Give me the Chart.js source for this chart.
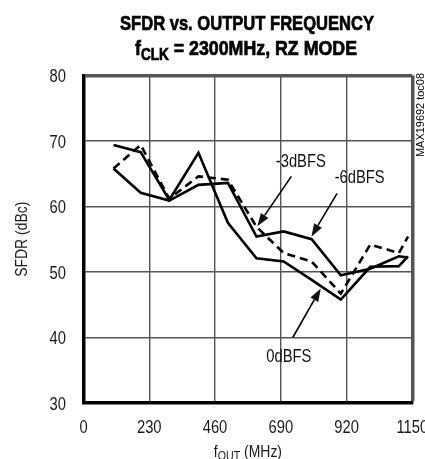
<!DOCTYPE html>
<html><head><meta charset="utf-8">
<script src="https://cdn.jsdelivr.net/npm/chart.js@4.4.0/dist/chart.umd.min.js"></script>
<style>html,body{margin:0;padding:0;background:#fff;overflow:hidden}canvas{display:block}</style>
</head><body>
<canvas id="c" width="425" height="459"></canvas>
<script>
// ---- data ----
const freqMHz        = [105, 200, 300, 402, 505, 605, 700, 798, 900, 1003, 1103, 1135];
const sfdr0dBFS      = [69.4, 68.3, 61.0, 68.2, 57.5, 52.1, 51.6, 48.8, 45.8, 50.8, 50.9, 52.4];
const sfdrMinus3dBFS = [65.8, 69.4, 61.2, 64.6, 64.1, 56.9, 52.9, 51.6, 46.7, 54.2, 52.9, 55.4];
const sfdrMinus6dBFS = [65.8, 62.1, 60.9, 63.3, 63.6, 55.4, 56.2, 55.0, 49.5, 50.5, 52.4, 52.2];
const xTickValues    = [0, 230, 460, 690, 920, 1150];
const yTickValues    = [30, 40, 50, 60, 70, 80];
const seriesNames    = ['0dBFS', '-3dBFS', '-6dBFS'];
// annotation anchors in data units: [labelX, labelY, arrowStartX, arrowStartY, tipX, tipY]
const annot0dBFS     = [718, 37.0, 732, 40.0, 830, 47.5];
const annotMinus3    = [760, 66.8, 727, 64.6, 608, 57.0];
const annotMinus6    = [966, 64.4, 887, 62.0, 797, 55.4];

const FAM = '"Liberation Sans", Arial, Helvetica, sans-serif';
const NARROW_X = 0.82;

function pts(ys){ return freqMHz.map((f,i)=>({x:f, y:ys[i]})); }

// draw horizontally condensed text
function narrowText(ctx, text, x, y, sx, align, stroke){
  ctx.save();
  ctx.translate(x, y);
  ctx.scale(sx, 1);
  ctx.textAlign = align || 'center';
  ctx.fillText(text, 0, 0);
  if (stroke) { ctx.lineWidth = stroke; ctx.strokeText(text, 0, 0); }
  ctx.restore();
}
function fitScale(ctx, text, maxW){ return maxW / ctx.measureText(text).width; }

const decor = {
  id: 'decor',
  afterDraw(chart){
    const ctx = chart.ctx, xs = chart.scales.x, ys = chart.scales.y, ca = chart.chartArea;
    ctx.save();
    ctx.fillStyle = '#000';
    ctx.strokeStyle = '#000';
    ctx.textBaseline = 'alphabetic';

    // title line 1
    ctx.font = 'bold 21px ' + FAM;
    narrowText(ctx, 'SFDR vs. OUTPUT FREQUENCY', 247, 30, fitScale(ctx, 'SFDR vs. OUTPUT FREQUENCY', 254), 'center', 0.7);
    // title line 2 with subscript
    const big = 'bold 21px ' + FAM, small = 'bold 16px ' + FAM;
    ctx.font = big; const wf = ctx.measureText('f').width;
    ctx.font = small; const wc = ctx.measureText('CLK').width;
    ctx.font = big; const wr = ctx.measureText(' = 2300MHz, RZ MODE').width;
    const s2 = 222 / (wf + wc + wr);
    ctx.save();
    ctx.translate(135, 55); ctx.scale(s2, 1); ctx.textAlign = 'left'; ctx.lineWidth = 0.7;
    ctx.font = big; ctx.fillText('f', 0, 0); ctx.strokeText('f', 0, 0);
    ctx.font = small; ctx.fillText('CLK', wf, 5); ctx.strokeText('CLK', wf, 5);
    ctx.font = big; ctx.fillText(' = 2300MHz, RZ MODE', wf + wc, 0); ctx.strokeText(' = 2300MHz, RZ MODE', wf + wc, 0);
    ctx.restore();

    // tick labels, from the library's ticks and pixel positions
    ctx.fillStyle = '#1a1a1a';
    ctx.font = '18px ' + FAM;
    ys.ticks.forEach(t => {
      narrowText(ctx, String(t.value), ca.left - 17.5, ys.getPixelForValue(t.value) + 6.5, NARROW_X, 'right');
    });
    xs.ticks.forEach(t => {
      narrowText(ctx, String(t.value), xs.getPixelForValue(t.value), 433, NARROW_X, 'center');
    });

    // y axis title
    ctx.font = '17px ' + FAM;
    ctx.save();
    ctx.translate(27, (ca.top + ca.bottom) / 2);
    ctx.rotate(-Math.PI / 2);
    narrowText(ctx, 'SFDR (dBc)', 0, 0, NARROW_X, 'center');
    ctx.restore();

    // x axis title with subscript
    const xb = '17px ' + FAM, xsm = '13px ' + FAM;
    ctx.font = xb; const a1 = ctx.measureText('f').width;
    ctx.font = xsm; const a2 = ctx.measureText('OUT').width;
    ctx.font = xb; const a3 = ctx.measureText(' (MHz)').width;
    const cx = (ca.left + ca.right) / 2;
    ctx.save();
    ctx.translate(cx, 457); ctx.scale(NARROW_X, 1); ctx.textAlign = 'left';
    const x0 = -(a1 + a2 + a3) / 2;
    ctx.font = xb; ctx.fillText('f', x0, 0);
    ctx.font = xsm; ctx.fillText('OUT', x0 + a1, 3);
    ctx.font = xb; ctx.fillText(' (MHz)', x0 + a1 + a2, 0);
    ctx.restore();

    // vertical id text
    ctx.fillStyle = '#000';
    ctx.font = '11px ' + FAM;
    ctx.save();
    ctx.translate(424, 115);
    ctx.rotate(-Math.PI / 2);
    narrowText(ctx, 'MAX19692 toc08', 0, 0, fitScale(ctx, 'MAX19692 toc08', 84), 'center');
    ctx.restore();

    // annotations
    const anns = [[seriesNames[0], annot0dBFS], [seriesNames[1], annotMinus3], [seriesNames[2], annotMinus6]];
    ctx.font = '18px ' + FAM;
    ctx.textBaseline = 'middle';
    ctx.fillStyle = '#111';
    for (const [name, a] of anns){
      const lx = xs.getPixelForValue(a[0]), ly = ys.getPixelForValue(a[1]);
      narrowText(ctx, name, lx, ly, NARROW_X, 'center');
      const sx = xs.getPixelForValue(a[2]), sy = ys.getPixelForValue(a[3]);
      const tx = xs.getPixelForValue(a[4]), ty = ys.getPixelForValue(a[5]);
      const ang = Math.atan2(ty - sy, tx - sx), L = 13, H = 4.5;
      const bx = tx - L * Math.cos(ang), by = ty - L * Math.sin(ang);
      ctx.lineWidth = 1.6;
      ctx.beginPath(); ctx.moveTo(sx, sy); ctx.lineTo(bx, by); ctx.stroke();
      ctx.beginPath();
      ctx.moveTo(tx, ty);
      ctx.lineTo(bx + H * Math.sin(ang), by - H * Math.cos(ang));
      ctx.lineTo(bx - H * Math.sin(ang), by + H * Math.cos(ang));
      ctx.closePath(); ctx.fill();
    }
    ctx.restore();
  }
};

new Chart(document.getElementById('c'), {
  type: 'line',
  data: {
    datasets: [
      { label: seriesNames[0], data: pts(sfdr0dBFS), borderColor: '#000', borderWidth: 2.6, pointRadius: 0, tension: 0, fill: false },
      { label: seriesNames[1], data: pts(sfdrMinus3dBFS), borderColor: '#000', borderWidth: 2.6, borderDash: [8, 5], pointRadius: 0, tension: 0, fill: false },
      { label: seriesNames[2], data: pts(sfdrMinus6dBFS), borderColor: '#000', borderWidth: 2.6, pointRadius: 0, tension: 0, fill: false }
    ]
  },
  options: {
    responsive: false,
    animation: false,
    events: [],
    layout: { padding: { left: 0, top: 75.5, right: 12.7, bottom: 0 } },
    plugins: { legend: { display: false }, title: { display: false }, tooltip: { enabled: false } },
    scales: {
      x: {
        type: 'linear', min: 0, max: 1150,
        afterBuildTicks: s => { s.ticks = xTickValues.map(v => ({ value: v })); },
        afterFit: s => { s.height = 56; s.paddingLeft = 0; s.paddingRight = 0; },
        ticks: { display: false, callback: v => String(v) },
        grid: {
          drawTicks: false,
          color: '#555',
          lineWidth: c => (c.tick && c.tick.value === 1150) ? 3.5 : 1.4
        },
        border: { display: true, color: '#000', width: 3.5 }
      },
      y: {
        type: 'linear', min: 30, max: 80,
        afterBuildTicks: s => { s.ticks = yTickValues.map(v => ({ value: v })); },
        afterFit: s => { s.width = 83.5; s.paddingTop = 0; s.paddingBottom = 0; },
        ticks: { display: false, callback: v => String(v) },
        grid: {
          drawTicks: false,
          color: '#555',
          lineWidth: c => (c.tick && c.tick.value === 80) ? 3.5 : 1.4
        },
        border: { display: true, color: '#000', width: 3.5 }
      }
    }
  },
  plugins: [decor]
});
</script>
</body></html>
